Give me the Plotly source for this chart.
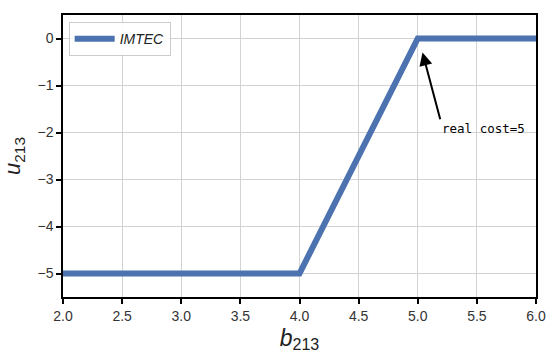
import plotly.graph_objects as go

b_vals = [2.0, 4.0, 5.0, 6.0]
u_vals = [-5, -5, 0, 0]
series_name = "IMTEC"
x_ticks = [2.0, 2.5, 3.0, 3.5, 4.0, 4.5, 5.0, 5.5, 6.0]
y_ticks = [0, -1, -2, -3, -4, -5]

fig = go.Figure()
fig.add_trace(go.Scatter(x=b_vals, y=u_vals, mode="lines", name="<i>" + series_name + "</i>",
                         line=dict(color="#4c72b0", width=6)))

fig.add_annotation(x=5.04, y=-0.3, ax=5.19, ay=-1.72, axref="x", ayref="y",
                   xref="x", yref="y", text="real cost=5", showarrow=True,
                   arrowhead=2, arrowsize=1.3, arrowwidth=2, arrowcolor="black",
                   xanchor="left", yanchor="top",
                   font=dict(family="DejaVu Sans Mono", size=12.5, color="black"))

axis_common = dict(showline=True, linecolor="black", linewidth=1.5, mirror=True,
                   ticks="outside", ticklen=5, tickcolor="black", tickwidth=1.5,
                   showgrid=True, gridcolor="#d3d3d3", gridwidth=1, zeroline=False,
                   automargin=False,
                   tickfont=dict(family="Liberation Sans", size=14, color="#333333"))

fig.update_xaxes(range=[2.0, 6.0], tickvals=x_ticks,
                 ticktext=[f"{v:.1f}" for v in x_ticks],
                 title=dict(text="<i>b</i><sub>213</sub>", font=dict(family="Liberation Sans", size=23, color="#222222"), standoff=7),
                 **axis_common)
fig.update_yaxes(range=[-5.5, 0.5], tickvals=y_ticks,
                 ticktext=[str(v).replace("-", "−") for v in y_ticks],
                 title=dict(text="<i>u</i><sub>213</sub>", font=dict(family="Liberation Sans", size=22, color="#222222"), standoff=11),
                 **axis_common)

fig.update_layout(width=550, height=361, margin=dict(l=63, r=14, t=15, b=64),
                  plot_bgcolor="white", paper_bgcolor="white",
                  legend=dict(x=0.012, y=0.975, xanchor="left", yanchor="top",
                              bgcolor="rgba(255,255,255,0.9)", bordercolor="#cccccc", borderwidth=1,
                              font=dict(family="Liberation Sans", size=14, color="#222222"),
                              itemwidth=40),
                  showlegend=True)

fig.write_html("out.html", config={"displayModeBar": False},
               post_script="document.body.style.margin='0';document.body.style.padding='0';")
